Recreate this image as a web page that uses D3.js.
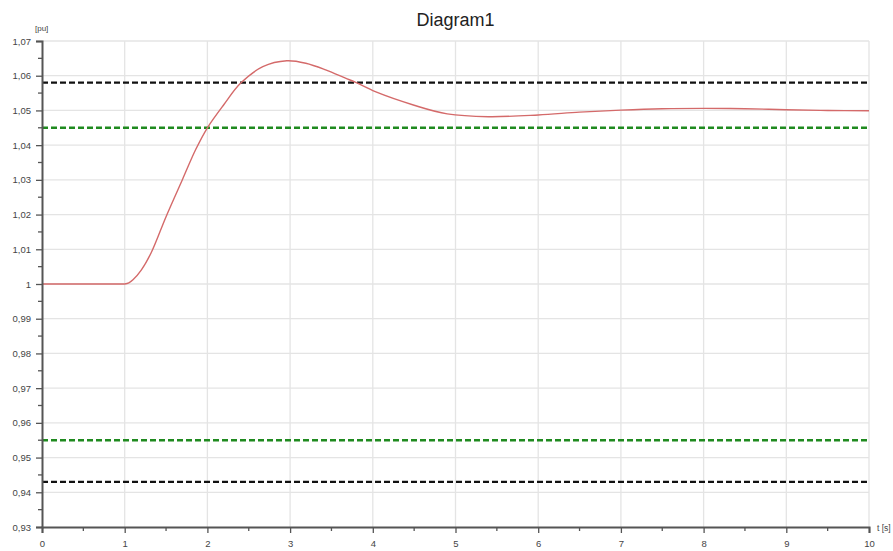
<!DOCTYPE html>
<html>
<head>
<meta charset="utf-8">
<script src="https://cdn.jsdelivr.net/npm/d3@7"></script>
<style>
  body { margin: 0; background: #fff; }
  svg { display: block; font-family: "Liberation Sans", Arial, sans-serif; }
</style>
</head>
<body>
<svg id="chart" width="893" height="551"></svg>
<script>
// time axis [s] and response [pu]
var timeValues = [0, 0.5, 0.95, 1, 1.05, 1.1, 1.2, 1.32, 1.5, 1.7, 1.86, 2.0, 2.2, 2.4, 2.67, 2.96, 3.19, 3.43, 3.67, 3.8, 4.03, 4.5, 4.9, 5.4, 6.0, 6.5, 7.0, 7.5, 8.0, 8.5, 9.0, 9.5, 10];
var puValues = [1, 1, 1, 1, 1.0003, 1.0012, 1.004, 1.0090, 1.0194, 1.0302, 1.0388, 1.0450, 1.0517, 1.0578, 1.0626, 1.0643, 1.0636, 1.0617, 1.0593, 1.058, 1.0554, 1.0515, 1.049, 1.0482, 1.0487, 1.0495, 1.0501, 1.0505, 1.0506, 1.0505, 1.0502, 1.05, 1.0499];

// limit lines
var outerLimits = [1.058, 0.943];
var innerLimits = [1.045, 0.955];

var xTicks = [0, 1, 2, 3, 4, 5, 6, 7, 8, 9, 10];
var yTicks = [0.93, 0.94, 0.95, 0.96, 0.97, 0.98, 0.99, 1, 1.01, 1.02, 1.03, 1.04, 1.05, 1.06, 1.07];

// plot box (window.top is reserved, so use other names)
var plotL = 42, plotR = 869, plotT = 41, plotB = 527;

var svg = d3.select("#chart");
var x = d3.scaleLinear().domain([0, 10]).range([plotL, plotR]);
var y = d3.scaleLinear().domain([0.93, 1.07]).range([plotB, plotT]);

var fmt = function(d) { return d3.format("~g")(+d.toFixed(2)).replace(".", ","); };

// title
svg.append("text")
  .attr("x", (plotL + plotR) / 2)
  .attr("y", 26)
  .attr("text-anchor", "middle")
  .attr("font-size", 18)
  .attr("fill", "#222")
  .text("Diagram1");

// grid
var grid = svg.append("g").attr("stroke", "#e4e4e4").attr("stroke-width", 1.3);
grid.selectAll("line.gx").data(xTicks.slice(1)).enter().append("line")
  .attr("x1", function(d) { return x(d); }).attr("x2", function(d) { return x(d); })
  .attr("y1", plotT).attr("y2", plotB);
grid.selectAll("line.gy").data(yTicks.slice(1)).enter().append("line")
  .attr("x1", plotL).attr("x2", plotR)
  .attr("y1", function(d) { return y(d); }).attr("y2", function(d) { return y(d); });

// limit lines
svg.selectAll("line.outer").data(outerLimits).enter().append("line")
  .attr("x1", plotL).attr("x2", plotR)
  .attr("y1", function(d) { return y(d); }).attr("y2", function(d) { return y(d); })
  .attr("stroke", "#111").attr("stroke-width", 2.4).attr("stroke-dasharray", "6,3");
svg.selectAll("line.inner").data(innerLimits).enter().append("line")
  .attr("x1", plotL).attr("x2", plotR)
  .attr("y1", function(d) { return y(d); }).attr("y2", function(d) { return y(d); })
  .attr("stroke", "#1f8a1f").attr("stroke-width", 2.4).attr("stroke-dasharray", "6,3");

// response curve
var line = d3.line()
  .x(function(d, i) { return x(timeValues[i]); })
  .y(function(d) { return y(d); })
  .curve(d3.curveCatmullRom.alpha(0.5));
svg.append("path")
  .datum(puValues)
  .attr("d", line)
  .attr("fill", "none")
  .attr("stroke", "#d46a6a")
  .attr("stroke-width", 1.4);

// axes
var yAxis = svg.append("g")
  .attr("transform", "translate(" + plotL + ",0)")
  .call(d3.axisLeft(y).tickValues(yTicks).tickFormat(fmt).tickSize(6).tickPadding(5));
var xAxis = svg.append("g")
  .attr("transform", "translate(0," + plotB + ")")
  .call(d3.axisBottom(x).tickValues(xTicks).tickFormat(fmt).tickSize(6).tickPadding(7));

// minor ticks
var yMinor = d3.range(0, 14).map(function(i) { return 0.935 + i * 0.01; });
yAxis.selectAll("line.minor").data(yMinor).enter().append("line")
  .attr("x1", -4).attr("x2", 0)
  .attr("y1", function(d) { return y(d); }).attr("y2", function(d) { return y(d); });
var xMinor = d3.range(0, 10).map(function(i) { return i + 0.5; });
xAxis.selectAll("line.minor").data(xMinor).enter().append("line")
  .attr("y1", 0).attr("y2", 4)
  .attr("x1", function(d) { return x(d); }).attr("x2", function(d) { return x(d); });

[yAxis, xAxis].forEach(function(a) {
  a.select(".domain").attr("stroke", "#555").attr("stroke-width", 2);
  a.selectAll("line").attr("stroke", "#555").attr("stroke-width", 1.3);
  a.selectAll("text").attr("font-size", 9.5).attr("fill", "#444")
    .attr("font-family", "Liberation Sans, Arial, sans-serif");
});

// axis units
svg.append("text").attr("x", 35).attr("y", 31).attr("font-size", 8).attr("fill", "#444").text("[pu]");
svg.append("text").attr("x", 877).attr("y", 531).attr("font-size", 8.5).attr("fill", "#444").text("t [s]");
</script>
</body>
</html>
